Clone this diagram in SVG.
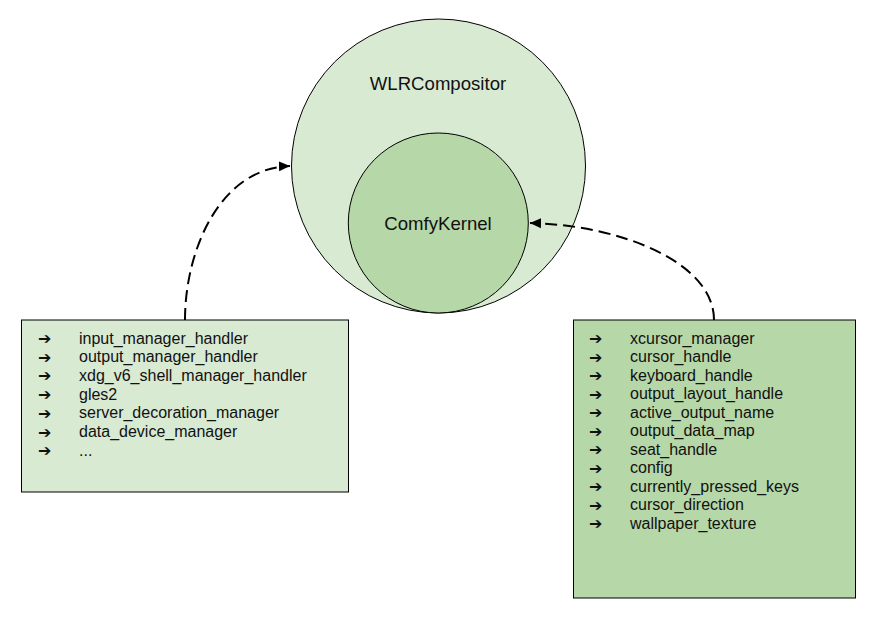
<svg xmlns="http://www.w3.org/2000/svg" width="884" height="631" viewBox="0 0 884 631">
<defs>
<style>
.lbl{font-family:"Liberation Sans",Arial,sans-serif;fill:#111;}
.big{font-size:18.6px;text-anchor:middle;}
.item{font-size:16px;}
.arr{font-family:"DejaVu Sans",sans-serif;font-size:16px;font-weight:bold;fill:#111;}
.edge{fill:none;stroke:#000;stroke-width:2;stroke-dasharray:12 6;}
.shape{stroke:#000;stroke-width:1;}
.l1{fill:#d9ead3;}
.l2{fill:#b6d7a8;}
</style>
<marker id="ah" viewBox="0 0 10 10" refX="10" refY="5" markerWidth="5.5" markerHeight="5.5" markerUnits="strokeWidth" orient="auto">
<path d="M0,0.5 L10,5 L0,9.5 Z" fill="#000"/>
</marker>
</defs>
<rect width="884" height="631" fill="#fff"/>
<g id="wlrcompositor">
<circle class="shape l1" cx="438.5" cy="166" r="147"/>
<text class="lbl big" x="438" y="90">WLRCompositor</text>
</g>
<g id="comfykernel">
<circle class="shape l2" cx="438.3" cy="223" r="90"/>
<text class="lbl big" x="438" y="230">ComfyKernel</text>
</g>
<g id="left-box">
<rect class="shape l1" x="21.5" y="320" width="327" height="172"/>
<g class="arr">
<text x="38" y="344">➔</text><text x="38" y="362.7">➔</text><text x="38" y="381.4">➔</text><text x="38" y="400.1">➔</text><text x="38" y="418.8">➔</text><text x="38" y="437.5">➔</text><text x="38" y="456.2">➔</text>
</g>
<g class="lbl item">
<text x="79" y="343.5">input_manager_handler</text>
<text x="79" y="362.2">output_manager_handler</text>
<text x="79" y="380.9">xdg_v6_shell_manager_handler</text>
<text x="79" y="399.6">gles2</text>
<text x="79" y="418.3">server_decoration_manager</text>
<text x="79" y="437">data_device_manager</text>
<text x="79" y="455.7">...</text>
</g>
</g>
<g id="right-box">
<rect class="shape l2" x="573.5" y="320" width="282" height="278"/>
<g class="arr">
<text x="589" y="344">➔</text><text x="589" y="362.5">➔</text><text x="589" y="381">➔</text><text x="589" y="399.5">➔</text><text x="589" y="418">➔</text><text x="589" y="436.5">➔</text><text x="589" y="455">➔</text><text x="589" y="473.5">➔</text><text x="589" y="492">➔</text><text x="589" y="510.5">➔</text><text x="589" y="529">➔</text>
</g>
<g class="lbl item">
<text x="630" y="343.5">xcursor_manager</text>
<text x="630" y="362">cursor_handle</text>
<text x="630" y="380.5">keyboard_handle</text>
<text x="630" y="399">output_layout_handle</text>
<text x="630" y="417.5">active_output_name</text>
<text x="630" y="436">output_data_map</text>
<text x="630" y="454.5">seat_handle</text>
<text x="630" y="473">config</text>
<text x="630" y="491.5">currently_pressed_keys</text>
<text x="630" y="510">cursor_direction</text>
<text x="630" y="528.5">wallpaper_texture</text>
</g>
</g>
<g id="connectors">
<path class="edge" d="M185,320 C185,250 220,168 290,166" marker-end="url(#ah)"/>
<path class="edge" d="M714,320 C714,262 620,225 530,223" marker-end="url(#ah)"/>
</g>
</svg>
